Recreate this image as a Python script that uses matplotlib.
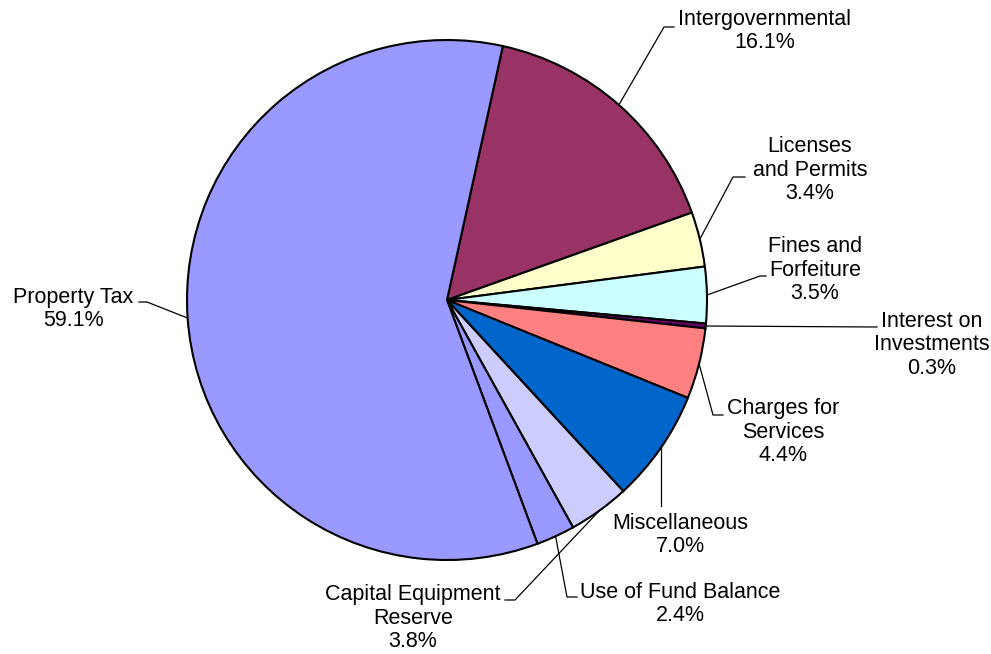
import numpy as np
import matplotlib.pyplot as plt

# datos del grafico (orden horario desde Intergovernmental)
labels = ['Intergovernmental', 'Licenses\nand Permits', 'Fines and\nForfeiture',
          'Interest on\nInvestments', 'Charges for\nServices', 'Miscellaneous',
          'Capital Equipment\nReserve', 'Use of Fund Balance', 'Property Tax']
values = [16.1, 3.4, 3.5, 0.3, 4.4, 7.0, 3.8, 2.4, 59.1]
colors = ['#993366', '#FFFFCC', '#CCFFFF', '#660066', '#FF8080', '#0066CC',
          '#CCCCFF', '#9999FF', '#9999FF']

W, H = 991, 654
plt.rcParams['font.family'] = ['Liberation Sans', 'DejaVu Sans']

fig = plt.figure(figsize=(W / 100, H / 100), dpi=100)
ax = fig.add_axes([0, 0, 1, 1])

cx, cy, r = 447, H - 300, 260
wedges, _ = ax.pie(values, colors=colors, startangle=77.6, counterclock=False,
                   center=(cx, cy), radius=r, frame=True,
                   wedgeprops=dict(edgecolor='black', linewidth=1.5))
ax.set_xlim(0, W)
ax.set_ylim(0, H)
ax.set_aspect('equal')
ax.axis('off')

# posiciones de etiquetas (px desde arriba) y codos de las lineas guia
text_pos = [(765, 31), (810, 170), (815, 270), (932, 345), (783, 432),
            (680, 535), (413, 618), (680, 604), (73, 309)]
elbows = [[(664, 27), (674, 27)],
          [(733, 177), (745, 177)],
          [(760, 276), (766, 276)],
          [(877, 327)],
          [(713, 415), (723, 415)],
          [None],
          [(515, 600), (505, 600)],
          [(567, 597), (577, 597)],
          [(147, 302), (139, 302)]]

for w, lab, v, (tx, ty), el in zip(wedges, labels, values, text_pos, elbows):
    mid = np.deg2rad((w.theta1 + w.theta2) / 2)
    ax_, ay_ = cx + r * np.cos(mid), cy + r * np.sin(mid)
    if el[0] is None:
        pts = [(ax_, ay_), (ax_, H - 506)]
    else:
        pts = [(ax_, ay_)] + [(px, H - py) for px, py in el]
    xs, ys = zip(*pts)
    ax.plot(xs, ys, color='black', lw=0.9)
    ax.text(tx, H - ty, f'{lab}\n{v:.1f}%', ha='center', va='center',
            multialignment='center', fontsize=15.5, linespacing=1.17)

fig.savefig('out.png', dpi=100)
